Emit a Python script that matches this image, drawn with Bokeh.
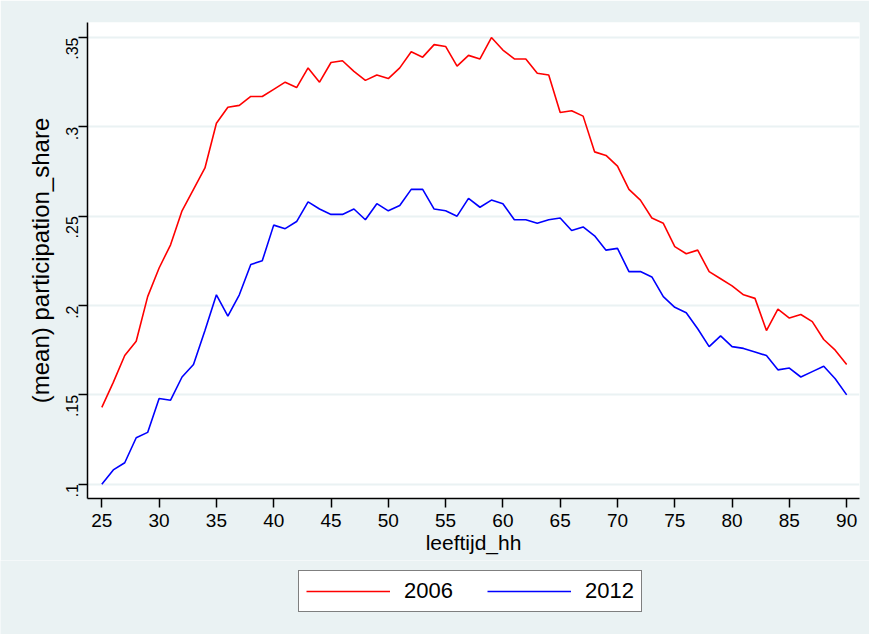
from bokeh.plotting import figure
from bokeh.models import ColumnDataSource, FixedTicker, Legend, LegendItem
from bokeh.layouts import column
from bokeh.embed import file_html
from bokeh.resources import INLINE
import math

ages = list(range(25, 91))
share_2006 = [
    .143, .157, .172, .180, .205, .221, .234, .253, .265, .277,
    .302, .311, .312, .317, .317, .321, .325, .322, .333, .325,
    .336, .337, .331, .326, .329, .327, .333, .342, .339, .346,
    .345, .334, .340, .338, .350, .343, .338, .338, .330, .329,
    .308, .309, .306, .286, .284, .278, .265, .259, .249, .246,
    .233, .229, .231, .219, .215, .211, .206, .204, .186, .198,
    .193, .195, .191, .181, .175, .167,
]
share_2012 = [
    .100, .108, .112, .126, .129, .148, .147, .160, .167, .186,
    .206, .194, .206, .223, .225, .245, .243, .247, .258, .254,
    .251, .251, .254, .248, .257, .253, .256, .265, .265, .254,
    .253, .250, .260, .255, .259, .257, .248, .248, .246, .248,
    .249, .242, .244, .239, .231, .232, .219, .219, .216, .205,
    .199, .196, .187, .177, .183, .177, .176, .174, .172, .164,
    .165, .160, .163, .166, .159, .150,
]
x_ticks = [25, 30, 35, 40, 45, 50, 55, 60, 65, 70, 75, 80, 85, 90]
y_ticks = [0.10, 0.15, 0.20, 0.25, 0.30, 0.35]
y_tick_labels = [".1", ".15", ".2", ".25", ".3", ".35"]
series_names = ["2006", "2012"]
series_colors = ["#FF0000", "#0000FF"]

BG = "#EAF2F3"
FONT = "Liberation Sans"

src = ColumnDataSource(dict(age=ages, s2006=share_2006, s2012=share_2012))

# ---- main chart ----
p = figure(width=869, height=560, output_backend="svg", toolbar_location=None,
           x_range=(23.75, 91.12), y_range=(0.092, 0.3584),
           min_border_left=87, min_border_top=22, min_border_right=10,
           min_border_bottom=62)
p.border_fill_color = BG
p.background_fill_color = "white"
p.outline_line_color = None

p.line("age", "s2006", source=src, line_color=series_colors[0], line_width=1.6)
p.line("age", "s2012", source=src, line_color=series_colors[1], line_width=1.6)

p.xgrid.visible = False
p.ygrid.grid_line_color = BG
p.ygrid.grid_line_width = 2

p.xaxis.ticker = FixedTicker(ticks=x_ticks)
p.yaxis.ticker = FixedTicker(ticks=y_ticks)
p.yaxis.major_label_overrides = {t: l for t, l in zip(y_ticks, y_tick_labels)}
p.yaxis.major_label_orientation = math.pi / 2

for ax in (p.xaxis[0], p.yaxis[0]):
    ax.axis_line_color = "black"
    ax.axis_line_width = 1.5
    ax.major_tick_line_color = "black"
    ax.major_tick_line_width = 1.5
    ax.major_tick_out = 9
    ax.major_tick_in = 0
    ax.minor_tick_line_color = None
    ax.major_label_text_font = FONT
    ax.major_label_text_color = "black"
    ax.axis_label_text_font = FONT
    ax.axis_label_text_font_style = "normal"
    ax.axis_label_text_color = "black"

p.xaxis.major_label_text_font_size = "19px"
p.xaxis.major_label_standoff = 6
p.xaxis.axis_label = "leeftijd_hh"
p.xaxis.axis_label_text_font_size = "21px"
p.xaxis.axis_label_standoff = 1

p.yaxis.major_label_text_font_size = "16px"
p.yaxis.major_label_standoff = 6
p.yaxis.axis_label = "(mean) participation_share"
p.yaxis.axis_label_text_font_size = "24px"
p.yaxis.axis_label_standoff = 4

# ---- legend strip (series drawn off-view so only the legend keys show) ----
q = figure(width=869, height=74, output_backend="svg", toolbar_location=None,
           x_range=(1000, 1001), y_range=(1000, 1001),
           min_border_left=0, min_border_right=0, min_border_top=0, min_border_bottom=0)
q.axis.visible = False
q.grid.visible = False
q.outline_line_color = None
q.background_fill_color = BG
q.border_fill_color = BG

legend_x = 211
if "frame_align" in q.properties():
    q.frame_align = False
    p.frame_align = False
    legend_x = 298

k1 = q.line("age", "s2006", source=src, line_color=series_colors[0], line_width=1.6)
k2 = q.line("age", "s2012", source=src, line_color=series_colors[1], line_width=1.6)

legend = Legend(items=[LegendItem(label=series_names[0], renderers=[k1]),
                       LegendItem(label=series_names[1], renderers=[k2])],
                orientation="horizontal", location=(legend_x, 22))
legend.border_line_color = "black"
legend.border_line_width = 1
legend.background_fill_color = "white"
legend.background_fill_alpha = 1
legend.label_text_font = FONT
legend.label_text_font_size = "22px"
legend.label_text_color = "black"
legend.glyph_width = 84
legend.glyph_height = 22
legend.label_height = 22
legend.label_standoff = 14
legend.spacing = 34
legend.padding = 7
legend.margin = 0
q.add_layout(legend, "center")

layout = column(p, q, spacing=0)
open("out.html", "w").write(file_html(layout, INLINE))
